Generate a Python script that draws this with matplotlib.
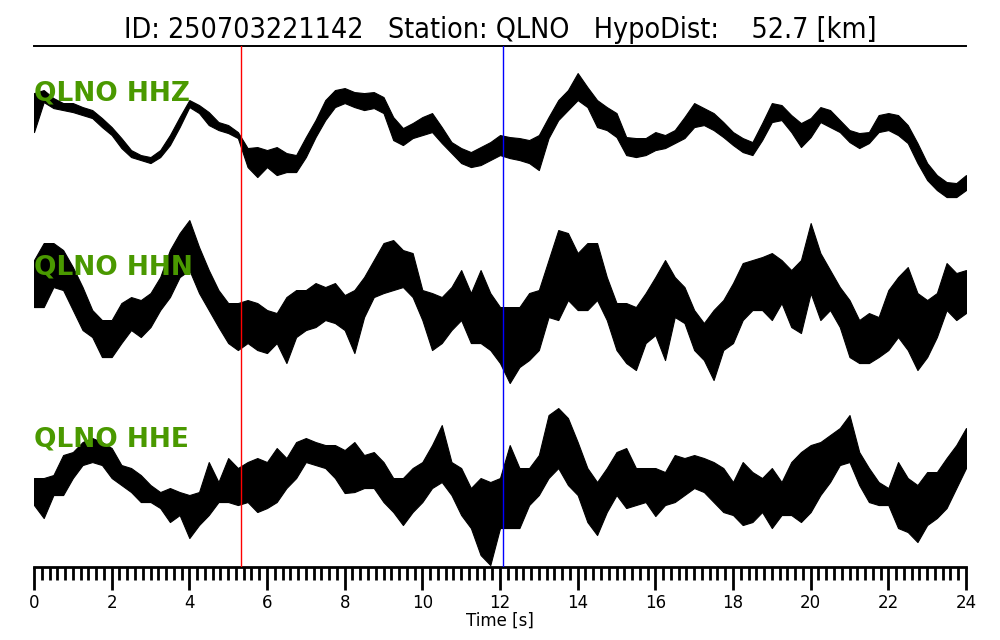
import numpy as np
import matplotlib.pyplot as plt
from matplotlib.ticker import MultipleLocator

# waveform envelopes read from the record, every 0.25 s (upper / lower edge, screen rows)
times = np.arange(97) * 0.25
p_pick = 5.33
s_pick = 12.08

hhz_top = [93, 90, 98, 103, 103, 107, 110, 118, 127, 138, 150, 155, 157, 150, 135, 117,
           100, 105, 112, 122, 125, 132, 148, 147, 150, 147, 153, 155, 137, 120, 100, 90,
           88, 92, 93, 92, 97, 117, 128, 123, 117, 113, 127, 142, 148, 152, 147, 142,
           135, 137, 138, 140, 135, 117, 100, 90, 73, 87, 100, 107, 113, 137, 138, 138,
           132, 135, 130, 117, 103, 108, 113, 122, 132, 138, 142, 123, 103, 105, 115, 123,
           118, 107, 110, 120, 130, 133, 132, 115, 113, 115, 125, 143, 163, 175, 182, 183, 175]
hhz_bot = [132, 102, 108, 110, 112, 115, 118, 127, 135, 148, 157, 160, 163, 157, 145, 127,
           107, 113, 125, 130, 133, 138, 167, 177, 167, 175, 172, 172, 157, 137, 120, 107,
           103, 107, 110, 108, 113, 140, 145, 138, 135, 132, 143, 153, 163, 167, 165, 160,
           155, 158, 160, 163, 170, 138, 120, 110, 100, 107, 127, 130, 137, 155, 157, 155,
           150, 148, 143, 138, 127, 125, 130, 137, 145, 152, 155, 140, 122, 120, 132, 147,
           137, 122, 127, 132, 142, 148, 143, 132, 130, 135, 143, 163, 180, 190, 197, 197, 190]

hhn_top = [260, 243, 243, 250, 267, 287, 310, 320, 320, 303, 297, 300, 293, 277, 250, 233,
           220, 247, 270, 290, 303, 303, 300, 303, 310, 313, 297, 290, 290, 283, 287, 283,
           295, 290, 277, 260, 243, 240, 250, 253, 290, 293, 297, 287, 270, 293, 270, 293,
           307, 307, 307, 293, 290, 260, 230, 233, 253, 243, 243, 277, 303, 303, 307, 293,
           277, 260, 277, 287, 310, 323, 310, 300, 283, 263, 260, 257, 253, 260, 270, 260,
           223, 253, 270, 287, 300, 320, 313, 317, 290, 277, 267, 293, 300, 293, 263, 273, 270]
hhn_bot = [307, 307, 287, 290, 310, 330, 337, 357, 357, 343, 330, 337, 327, 310, 297, 277,
           270, 293, 310, 327, 343, 350, 343, 350, 353, 343, 363, 337, 330, 327, 320, 323,
           330, 353, 317, 297, 293, 290, 287, 297, 320, 350, 343, 330, 320, 343, 343, 350,
           363, 383, 367, 360, 350, 317, 320, 300, 310, 310, 300, 320, 350, 363, 370, 343,
           335, 360, 317, 323, 350, 360, 380, 350, 343, 320, 310, 310, 320, 303, 327, 333,
           293, 320, 310, 327, 357, 363, 363, 357, 350, 337, 350, 370, 357, 337, 310, 320, 313]

hhe_top = [478, 478, 475, 455, 452, 442, 438, 442, 448, 465, 468, 475, 485, 492, 488, 492,
           495, 492, 462, 482, 458, 468, 462, 458, 462, 448, 458, 442, 438, 442, 445, 445,
           450, 442, 455, 452, 462, 478, 478, 468, 462, 445, 425, 462, 468, 488, 478, 482,
           478, 445, 468, 468, 455, 415, 408, 418, 442, 468, 482, 468, 452, 448, 468, 468,
           468, 472, 455, 458, 455, 458, 462, 468, 482, 462, 472, 478, 468, 482, 462, 452,
           445, 442, 435, 428, 415, 452, 468, 482, 488, 462, 478, 485, 472, 472, 458, 445, 428]
hhe_bot = [505, 518, 495, 495, 478, 465, 462, 465, 478, 485, 492, 502, 502, 508, 522, 515,
           538, 525, 515, 502, 502, 505, 502, 512, 508, 502, 488, 478, 462, 465, 468, 478,
           493, 492, 488, 488, 502, 512, 525, 512, 502, 488, 482, 495, 515, 528, 555, 565,
           528, 528, 528, 505, 495, 478, 468, 485, 495, 522, 535, 512, 495, 508, 505, 502,
           516, 505, 502, 495, 488, 492, 502, 512, 515, 525, 522, 512, 528, 515, 515, 522,
           512, 495, 482, 465, 462, 485, 502, 505, 505, 528, 532, 542, 525, 518, 508, 488, 468]

channels = ['QLNO HHZ', 'QLNO HHN', 'QLNO HHE']
label_rows = [93, 267, 439]
tops = [hhz_top, hhn_top, hhe_top]
bots = [hhz_bot, hhn_bot, hhe_bot]

fig = plt.figure(figsize=(10, 6.4), dpi=100)
ax = fig.add_axes([0.034, 0.114, 0.932, 0.814])

for name, row, top, bot in zip(channels, label_rows, tops, bots):
    ax.fill_between(times, top, bot, color='black', linewidth=0.8, zorder=2)
    ax.text(0, row, name, color='#4a9900', fontsize=19, fontweight='bold',
            ha='left', va='center', zorder=4)

ax.axvline(p_pick, color='red', linewidth=1, zorder=3)
ax.axvline(s_pick, color='blue', linewidth=1, zorder=3)

ax.set_xlim(0, 24)
ax.set_ylim(567, 46)
ax.xaxis.set_major_locator(MultipleLocator(2))
ax.xaxis.set_minor_locator(MultipleLocator(0.2))
ax.tick_params(axis='x', which='major', length=16.5, width=2, labelsize=12, pad=3)
ax.tick_params(axis='x', which='minor', length=9, width=2)
ax.set_yticks([])
for side in ['left', 'right']:
    ax.spines[side].set_visible(False)
ax.spines['bottom'].set_linewidth(2)
ax.spines['top'].set_linewidth(1.4)
ax.set_xlabel('Time [s]', fontsize=12, labelpad=0)
ax.set_title('ID: 250703221142   Station: QLNO   HypoDist:    52.7 [km]',
             fontsize=20.5, fontstretch='condensed', pad=6)

fig.savefig('out.png', dpi=100)
